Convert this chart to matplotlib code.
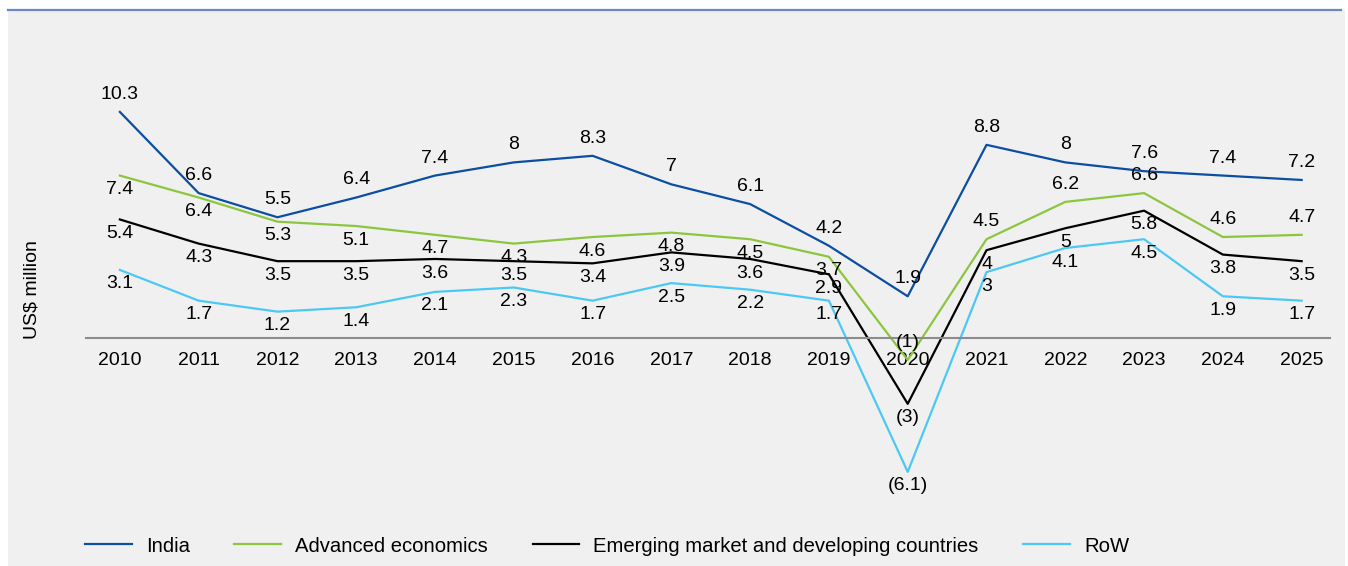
import matplotlib.pyplot as plt
from matplotlib.patches import Rectangle
from matplotlib.lines import Line2D

plt.rcParams['font.family'] = ['Liberation Sans', 'DejaVu Sans']

years = ['2010', '2011', '2012', '2013', '2014', '2015', '2016', '2017',
         '2018', '2019', '2020', '2021', '2022', '2023', '2024', '2025']

india = [10.3, 6.6, 5.5, 6.4, 7.4, 8, 8.3, 7, 6.1, 4.2, 1.9, 8.8, 8, 7.6, 7.4, 7.2]
advanced = [7.4, 6.4, 5.3, 5.1, 4.7, 4.3, 4.6, 4.8, 4.5, 3.7, -1, 4.5, 6.2, 6.6, 4.6, 4.7]
emerging = [5.4, 4.3, 3.5, 3.5, 3.6, 3.5, 3.4, 3.9, 3.6, 2.9, -3, 4, 5, 5.8, 3.8, 3.5]
row = [3.1, 1.7, 1.2, 1.4, 2.1, 2.3, 1.7, 2.5, 2.2, 1.7, -6.1, 3, 4.1, 4.5, 1.9, 1.7]

names = ['India', 'Advanced economics', 'Emerging market and developing countries', 'RoW']
colors = ['#0b4ea2', '#8cc63f', '#000000', '#4cc8f4']

# label side: 1 = above the point, -1 = below
sides = [
    [1] * 16,
    [-1] * 10 + [1] * 6,
    [-1] * 16,
    [-1] * 16,
]

FS = 14
W, H = 1348, 566
fig = plt.figure(figsize=(W / 100, H / 100), dpi=100)
fig.patch.set_facecolor('white')

# grey panel and blue rule on top
fig.patches.append(Rectangle((8 / W, 0), (1345 - 8) / W, 1 - 10 / H,
                             transform=fig.transFigure, facecolor='#f0f0f0',
                             edgecolor='none', zorder=-10))
fig.lines.append(Line2D([8 / W, 1341 / W], [1 - 10 / H, 1 - 10 / H],
                        transform=fig.transFigure, color='#6a86c6', lw=1.6,
                        zorder=-5))

ax = fig.add_axes([86 / W, 1 - 502.6 / H, (1330 - 86) / W, (502.6 - 74.6) / H])
ax.set_facecolor('none')

x = list(range(len(years)))
series = [india, advanced, emerging, row]
for vals, c, name in zip(series, colors, names):
    ax.plot(x, vals, color=c, lw=1.6, label=name)

for vals, side in zip(series, sides):
    for i, v in enumerate(vals):
        txt = '(%g)' % abs(v) if v < 0 else '%g' % v
        if side[i] > 0:
            ax.annotate(txt, (i, v), xytext=(0, 6.5), textcoords='offset points',
                        ha='center', va='bottom', fontsize=FS)
        else:
            ax.annotate(txt, (i, v), xytext=(0, -4), textcoords='offset points',
                        ha='center', va='top', fontsize=FS)

ax.set_xlim(-0.43, 15.36)
ax.set_ylim(-7.5, 12)
for s in ['top', 'right', 'left']:
    ax.spines[s].set_visible(False)
ax.spines['bottom'].set_position(('data', 0))
ax.spines['bottom'].set_color('#8c8c8c')
ax.spines['bottom'].set_linewidth(1.5)
ax.set_yticks([])
ax.set_xticks(x)
ax.set_xticklabels(years, fontsize=FS)
ax.tick_params(axis='x', length=0, pad=10)

fig.text(32 / W, 1 - 290 / H, 'US$ million', rotation=90, ha='center',
         va='center', fontsize=FS)

fig.legend(loc='center left', bbox_to_anchor=(85 / W, 1 - 546 / H), ncol=4,
           frameon=False, fontsize=14.6, handlelength=2.3, handletextpad=0.7,
           columnspacing=2.2, borderpad=0, borderaxespad=0)

fig.savefig('out.png', dpi=100, facecolor=fig.get_facecolor())
